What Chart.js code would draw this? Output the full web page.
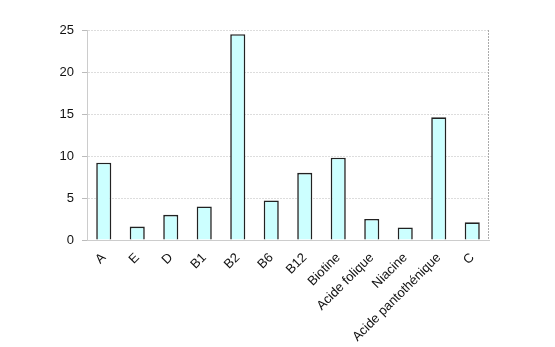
<!DOCTYPE html>
<html>
<head>
<meta charset="utf-8">
<script src="https://cdn.jsdelivr.net/npm/chart.js@4"></script>
<style>
  body { margin: 0; background: #fff; }
  #wrap { width: 555px; height: 347px; }
</style>
</head>
<body>
<div id="wrap"><canvas id="barChart"></canvas></div>
<script>
const vitamins = ['A', 'E', 'D', 'B1', 'B2', 'B6', 'B12', 'Biotine', 'Acide folique', 'Niacine', 'Acide pantothénique', 'C'];
const values = [9.2, 1.6, 3.0, 4.0, 24.5, 4.7, 8.0, 9.8, 2.5, 1.5, 14.6, 2.1];
const yTicks = [0, 5, 10, 15, 20, 25];

// dotted frame on the right side of the plot
const rightBorder = {
  id: 'rightBorder',
  afterDraw(chart) {
    const { ctx, chartArea } = chart;
    ctx.save();
    ctx.strokeStyle = '#aaa';
    ctx.lineWidth = 1;
    ctx.setLineDash([2, 1]);
    ctx.beginPath();
    ctx.moveTo(chartArea.right - 0.5, chartArea.top);
    ctx.lineTo(chartArea.right - 0.5, chartArea.bottom);
    ctx.stroke();
    ctx.restore();
  }
};

const ctx = document.getElementById('barChart').getContext('2d');
new Chart(ctx, {
  type: 'bar',
  data: {
    labels: vitamins,
    datasets: [{
      data: values,
      backgroundColor: '#ccffff',
      borderColor: '#222',
      borderWidth: 1.6,
      barPercentage: 0.45,
      categoryPercentage: 1
    }]
  },
  options: {
    responsive: true,
    maintainAspectRatio: false,
    animation: false,
    layout: { padding: { top: 30, right: 66, left: 0, bottom: 0 } },
    plugins: { legend: { display: false }, tooltip: { enabled: false } },
    scales: {
      x: {
        afterFit(scale) { scale.height = 107; },
        grid: { display: false },
        border: { color: '#ccc', dash: [2, 1] },
        ticks: {
          color: '#111',
          font: { family: 'Liberation Sans, Arial', size: 13 },
          maxRotation: 45,
          minRotation: 45,
          autoSkip: false,
          padding: 2
        }
      },
      y: {
        min: 0,
        max: 25,
        afterFit(scale) { scale.width = 87; },
        afterBuildTicks(scale) { scale.ticks = yTicks.map(v => ({ value: v })); },
        grid: { color: '#ddd', tickColor: '#bbb', tickLength: 5, borderDash: [2, 1] },
        border: { color: '#ccc', dash: [2, 1] },
        ticks: {
          color: '#111',
          font: { family: 'Liberation Sans, Arial', size: 13 },
          padding: 8
        }
      }
    }
  },
  plugins: [rightBorder]
});
</script>
</body>
</html>
